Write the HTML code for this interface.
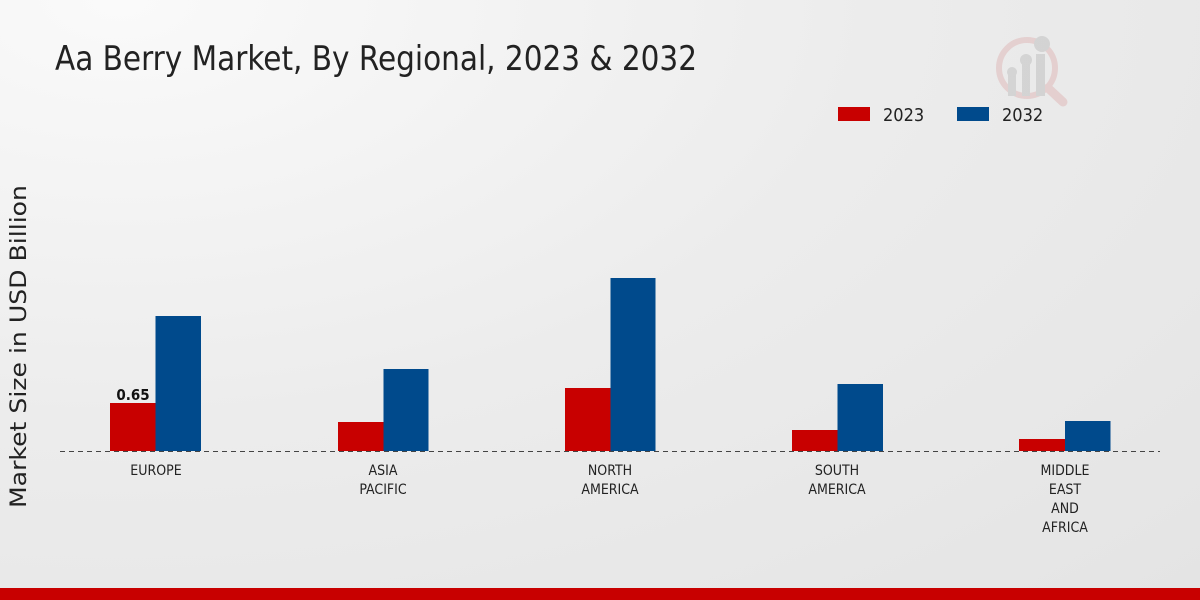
<!DOCTYPE html>
<html><head><meta charset="utf-8"><style>
html,body{margin:0;padding:0;width:1200px;height:600px;overflow:hidden}
body{background:radial-gradient(ellipse at 10% 0%,#fafafa 0%,#ececec 50%,#e4e4e4 100%)}
text{font-family:"DejaVu Sans Condensed","Liberation Sans Narrow","Liberation Sans",sans-serif}
</style></head><body>
<svg width="1200" height="600" xmlns="http://www.w3.org/2000/svg">
<text x="55" y="70" font-size="34" fill="#222" textLength="642" lengthAdjust="spacingAndGlyphs">Aa Berry Market, By Regional, 2023 &amp; 2032</text>
<g opacity="0.35">
<circle cx="1027" cy="68" r="28" fill="none" stroke="#d9a0a0" stroke-width="6"/>
<line x1="1048" y1="88" x2="1063" y2="102" stroke="#d9a0a0" stroke-width="9" stroke-linecap="round"/>
<rect x="1008" y="72" width="8" height="24" fill="#aaa"/><circle cx="1012" cy="72" r="5" fill="#aaa"/>
<rect x="1022" y="62" width="8" height="34" fill="#aaa"/><circle cx="1026" cy="60" r="6" fill="#aaa"/>
<rect x="1036" y="54" width="9" height="42" fill="#aaa"/><circle cx="1042" cy="44" r="8" fill="#aaa"/>
</g>
<rect x="838" y="107" width="32" height="14" fill="#c80000"/>
<text x="883" y="121" font-size="18" fill="#222">2023</text>
<rect x="957" y="107" width="32" height="14" fill="#004a8c"/>
<text x="1002" y="121" font-size="18" fill="#222">2032</text>
<text transform="translate(26,508) rotate(-90)" font-size="22" fill="#222" style="font-family:'DejaVu Sans',sans-serif" textLength="323" lengthAdjust="spacingAndGlyphs">Market Size in USD Billion</text>
<g>
<rect x="110" y="403" width="45.5" height="48" fill="#c80000"/><rect x="155.5" y="316" width="45.5" height="135" fill="#004a8c"/>
<rect x="338" y="422" width="45.5" height="29" fill="#c80000"/><rect x="383.5" y="369" width="45" height="82" fill="#004a8c"/>
<rect x="565" y="388" width="45.5" height="63" fill="#c80000"/><rect x="610.5" y="278" width="45" height="173" fill="#004a8c"/>
<rect x="792" y="430" width="45.5" height="21" fill="#c80000"/><rect x="837.5" y="384" width="45.5" height="67" fill="#004a8c"/>
<rect x="1019" y="439" width="46" height="12" fill="#c80000"/><rect x="1065" y="421" width="45.5" height="30" fill="#004a8c"/>
</g>
<text x="133" y="400" font-size="15" font-weight="bold" fill="#111" text-anchor="middle">0.65</text>
<line x1="60" y1="451.5" x2="1160" y2="451.5" stroke="#444" stroke-dasharray="5,4" stroke-width="1"/>
<g font-size="14" fill="#222" text-anchor="middle">
<text x="156" y="475">EUROPE</text>
<text x="383" y="475">ASIA</text><text x="383" y="494">PACIFIC</text>
<text x="610" y="475">NORTH</text><text x="610" y="494">AMERICA</text>
<text x="837" y="475">SOUTH</text><text x="837" y="494">AMERICA</text>
<text x="1065" y="475">MIDDLE</text><text x="1065" y="494">EAST</text><text x="1065" y="513">AND</text><text x="1065" y="532">AFRICA</text>
</g>
<rect x="0" y="588" width="1200" height="12" fill="#c80000"/>
</svg>
</body></html>
